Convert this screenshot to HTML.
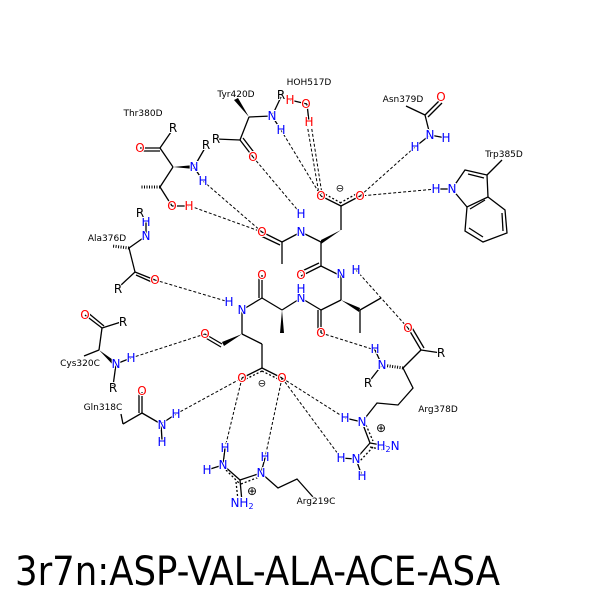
<!DOCTYPE html>
<html><head><meta charset="utf-8"><style>
body{margin:0;background:#fff}
svg text{font-family:"DejaVu Sans","Liberation Sans",sans-serif;font-size:12px;text-anchor:middle;dominant-baseline:central;paint-order:stroke;stroke:#fff;stroke-width:2px}
.b{fill:#0000ff}.r{fill:#ff0000}.k{fill:#000}
.l{font-size:9px;fill:#000}
line,polyline{stroke:#000;stroke-width:1.3;fill:none}
.d{stroke:#000;stroke-width:1;stroke-dasharray:3,2}
</style></head><body>
<svg width="600" height="600" viewBox="0 0 600 600" xmlns="http://www.w3.org/2000/svg">
<rect width="600" height="600" fill="#fff"/>
<g>
<line class="d" x1="203" y1="181" x2="262" y2="232"/>
<line class="d" x1="190" y1="206" x2="262" y2="232"/>
<line class="d" x1="253" y1="157" x2="301" y2="214"/>
<line class="d" x1="281" y1="130" x2="321" y2="196"/>
<line class="d" x1="307" y1="124" x2="319" y2="194"/>
<line class="d" x1="311" y1="124" x2="322" y2="194"/>
<line class="d" x1="415" y1="147" x2="360" y2="196"/>
<line class="d" x1="436" y1="189" x2="360" y2="196"/>
<line class="d" x1="155" y1="280" x2="229" y2="302"/>
<line class="d" x1="131" y1="358" x2="205" y2="334"/>
<line class="d" x1="176" y1="414" x2="242" y2="378"/>
<line class="d" x1="242" y1="378" x2="225" y2="448"/>
<line class="d" x1="282" y1="378" x2="265" y2="458"/>
<line class="d" x1="282" y1="378" x2="345" y2="418"/>
<line class="d" x1="282" y1="378" x2="341" y2="458"/>
<line class="d" x1="356" y1="270" x2="408" y2="328"/>
<line class="d" x1="321" y1="333" x2="375" y2="350"/>
</g>
<line x1="341" y1="206" x2="321" y2="196"/><line x1="341" y1="203" x2="323" y2="193" style="stroke-dasharray:2,2"/>
<line x1="341" y1="206" x2="360" y2="196"/><line x1="340" y1="203" x2="358" y2="193" style="stroke-dasharray:2,2"/>
<line x1="341" y1="206" x2="341" y2="230"/>
<polygon points="341,230 321,244 321,240" fill="#000"/>
<line x1="321" y1="242" x2="301" y2="232"/>
<line x1="301" y1="232" x2="282" y2="242"/>
<line x1="282" y1="242" x2="262" y2="232"/><line x1="280" y1="245" x2="261" y2="236"/>
<line x1="282" y1="242" x2="282" y2="264"/>
<line x1="321" y1="242" x2="321" y2="266"/>
<line x1="321" y1="266" x2="301" y2="276"/><line x1="319" y1="263" x2="300" y2="272"/>
<line x1="321" y1="266" x2="341" y2="276"/>
<line x1="341" y1="276" x2="341" y2="300"/>
<line x1="341" y1="300" x2="321" y2="310"/>
<polygon points="341,300 360,308 359,312" fill="#000"/>
<line x1="360" y1="310" x2="381" y2="298"/>
<line x1="360" y1="310" x2="360" y2="333"/>
<line x1="321" y1="310" x2="321" y2="333"/><line x1="318" y1="310" x2="318" y2="333"/>
<line x1="321" y1="310" x2="301" y2="298"/>
<line x1="301" y1="298" x2="282" y2="310"/>
<polygon points="282,310 280,333 284,333" fill="#000"/>
<line x1="282" y1="310" x2="262" y2="298"/>
<line x1="262" y1="298" x2="262" y2="275"/><line x1="259" y1="298" x2="259" y2="275"/>
<line x1="262" y1="298" x2="242" y2="310"/>
<line x1="242" y1="310" x2="242" y2="334"/>
<polygon points="242,334 222,342 224,346" fill="#000"/>
<line x1="222" y1="344" x2="205" y2="334"/><line x1="221" y1="347" x2="204" y2="337"/>
<line x1="242" y1="334" x2="262" y2="344"/>
<line x1="262" y1="344" x2="262" y2="368"/>
<line x1="262" y1="368" x2="242" y2="378"/><line x1="262" y1="371" x2="244" y2="380" style="stroke-dasharray:2,2"/>
<line x1="262" y1="368" x2="282" y2="378"/><line x1="262" y1="371" x2="280" y2="380" style="stroke-dasharray:2,2"/>
<line x1="140" y1="148" x2="160" y2="148"/><line x1="140" y1="151" x2="160" y2="151"/>
<line x1="160" y1="148" x2="171" y2="132"/>
<line x1="160" y1="148" x2="173" y2="167"/>
<polygon points="173,167 194,165 194,169" fill="#000"/>
<line x1="194" y1="167" x2="205" y2="148"/>
<line x1="194" y1="167" x2="203" y2="181"/>
<line x1="173" y1="167" x2="160" y2="187"/>
<line x1="160" y1="187" x2="140" y2="187" style="stroke-dasharray:1,1.5;stroke-width:3"/>
<line x1="160" y1="187" x2="172" y2="206"/>
<line x1="172" y1="206" x2="189" y2="206"/>
<polygon points="249,117 234,100 238,98" fill="#000"/>
<line x1="249" y1="117" x2="272" y2="116"/>
<line x1="272" y1="116" x2="281" y2="97"/>
<line x1="272" y1="116" x2="281" y2="130"/>
<line x1="249" y1="117" x2="240" y2="140"/>
<line x1="240" y1="140" x2="216" y2="139"/>
<line x1="240" y1="140" x2="253" y2="157"/><line x1="243" y1="138" x2="256" y2="155"/>
<line x1="290" y1="100" x2="307" y2="104"/><line x1="307" y1="104" x2="309" y2="122"/>
<line x1="406" y1="106" x2="425" y2="115"/>
<line x1="425" y1="115" x2="440" y2="100"/><line x1="428" y1="117" x2="442" y2="103"/>
<line x1="425" y1="115" x2="430" y2="135"/>
<line x1="430" y1="135" x2="446" y2="138"/><line x1="430" y1="135" x2="415" y2="147"/>
<line x1="436" y1="189" x2="452" y2="189"/>
<polyline points="452,189 465,170 487,175 488,197 467,207 452,189"/>
<line x1="468" y1="174" x2="484" y2="178"/>
<line x1="487" y1="175" x2="502" y2="160"/>
<polyline points="467,207 465,231 483,242 507,233 505,210 488,197"/>
<line x1="469" y1="228" x2="483" y2="237"/><line x1="502" y1="213" x2="503" y2="231"/><line x1="470" y1="209" x2="485" y2="200"/>
<line x1="146" y1="236" x2="129" y2="248"/>
<line x1="146" y1="236" x2="146" y2="222"/>
<line x1="129" y1="248" x2="112" y2="246" style="stroke-dasharray:1,1.5;stroke-width:3"/>
<line x1="129" y1="248" x2="135" y2="272"/>
<line x1="135" y1="272" x2="155" y2="280"/><line x1="136" y1="275" x2="154" y2="283"/>
<line x1="135" y1="272" x2="120" y2="286"/>
<line x1="85" y1="315" x2="102" y2="328"/><line x1="87" y1="312" x2="104" y2="326"/>
<line x1="102" y1="328" x2="121" y2="322"/>
<line x1="102" y1="328" x2="99" y2="350"/>
<polygon points="99,350 116,362 114,366" fill="#000"/>
<line x1="99" y1="350" x2="84" y2="356"/>
<line x1="116" y1="364" x2="131" y2="358"/>
<line x1="116" y1="364" x2="113" y2="386"/>
<line x1="121" y1="414" x2="123" y2="424"/>
<line x1="123" y1="424" x2="142" y2="413"/>
<line x1="142" y1="413" x2="142" y2="392"/><line x1="139" y1="413" x2="139" y2="392"/>
<line x1="142" y1="413" x2="161" y2="424"/>
<line x1="161" y1="424" x2="176" y2="414"/><line x1="161" y1="424" x2="162" y2="440"/>
<line x1="207" y1="470" x2="223" y2="465"/><line x1="223" y1="465" x2="225" y2="448"/>
<line x1="223" y1="465" x2="240" y2="480"/><line x1="226" y1="470" x2="240" y2="484" style="stroke-dasharray:2,2"/>
<line x1="240" y1="480" x2="242" y2="502"/><line x1="236" y1="482" x2="238" y2="500" style="stroke-dasharray:2,2"/>
<line x1="240" y1="480" x2="261" y2="473"/><line x1="241" y1="484" x2="259" y2="477" style="stroke-dasharray:2,2"/>
<line x1="261" y1="473" x2="265" y2="458"/>
<polyline points="261,473 278,488 297,479 313,497"/>
<line x1="408" y1="328" x2="421" y2="350"/><line x1="411" y1="326" x2="424" y2="348"/>
<line x1="421" y1="350" x2="441" y2="353"/>
<line x1="421" y1="350" x2="403" y2="368"/>
<line x1="403" y1="368" x2="382" y2="365" style="stroke-dasharray:1,1.5;stroke-width:3"/>
<line x1="382" y1="365" x2="375" y2="350"/>
<line x1="382" y1="365" x2="368" y2="383"/>
<polyline points="403,368 413,388 398,405 377,403 362,422"/>
<line x1="345" y1="418" x2="362" y2="422"/>
<line x1="362" y1="422" x2="370" y2="443"/><line x1="366" y1="425" x2="373" y2="441" style="stroke-dasharray:2,2"/>
<line x1="370" y1="443" x2="387" y2="446"/><line x1="370" y1="447" x2="384" y2="450" style="stroke-dasharray:2,2"/>
<line x1="370" y1="443" x2="356" y2="459"/><line x1="373" y1="447" x2="359" y2="462" style="stroke-dasharray:2,2"/>
<line x1="341" y1="458" x2="356" y2="459"/><line x1="356" y1="459" x2="362" y2="476"/>

<text x="321" y="196" class="r">O</text><text x="360" y="196" class="r">O</text>
<text x="340" y="189" class="k" style="font-size:10px">⊖</text>
<text x="301" y="232" class="b">N</text><text x="301" y="214" class="b">H</text>
<text x="262" y="232" class="r">O</text>
<text x="301" y="275" class="r">O</text>
<text x="341" y="274" class="b">N</text><text x="356" y="270" class="b">H</text>
<text x="321" y="333" class="r">O</text>
<text x="301" y="298" class="b">N</text><text x="301" y="289" class="b">H</text>
<text x="262" y="275" class="r">O</text>
<text x="242" y="310" class="b">N</text><text x="229" y="302" class="b">H</text>
<text x="205" y="334" class="r">O</text>
<text x="242" y="378" class="r">O</text><text x="282" y="378" class="r">O</text>
<text x="262" y="384" class="k" style="font-size:10px">⊖</text>
<text x="140" y="148" class="r">O</text><text x="173" y="128" class="k">R</text>
<text x="194" y="167" class="b">N</text><text x="206" y="145" class="k">R</text><text x="203" y="181" class="b">H</text>
<text x="172" y="206" class="r">O</text><text x="189" y="206" class="r">H</text>
<text x="143" y="114" class="l">Thr380D</text>
<text x="236" y="95" class="l">Tyr420D</text>
<text x="272" y="116" class="b">N</text><text x="281" y="95" class="k">R</text><text x="281" y="130" class="b">H</text>
<text x="216" y="139" class="k">R</text><text x="253" y="157" class="r">O</text>
<text x="309" y="83" class="l">HOH517D</text>
<text x="290" y="100" class="r">H</text><text x="306" y="104" class="r">O</text><text x="309" y="122" class="r">H</text>
<text x="403" y="100" class="l">Asn379D</text>
<text x="441" y="97" class="r">O</text>
<text x="430" y="135" class="b">N</text><text x="446" y="138" class="b">H</text><text x="415" y="147" class="b">H</text>
<text x="504" y="155" class="l">Trp385D</text>
<text x="452" y="189" class="b">N</text><text x="436" y="189" class="b">H</text>
<text x="107" y="239" class="l">Ala376D</text>
<text x="146" y="236" class="b">N</text><text x="146" y="222" class="b">H</text><text x="140" y="213" class="k">R</text>
<text x="155" y="280" class="r">O</text><text x="118" y="289" class="k">R</text>
<text x="85" y="315" class="r">O</text><text x="123" y="322" class="k">R</text>
<text x="80" y="364" class="l">Cys320C</text>
<text x="116" y="364" class="b">N</text><text x="131" y="358" class="b">H</text><text x="113" y="388" class="k">R</text>
<text x="103" y="408" class="l">Gln318C</text>
<text x="142" y="391" class="r">O</text>
<text x="162" y="425" class="b">N</text><text x="176" y="414" class="b">H</text><text x="162" y="442" class="b">H</text>
<text x="207" y="470" class="b">H</text><text x="223" y="465" class="b">N</text><text x="225" y="448" class="b">H</text>
<text x="242" y="503" class="b">NH<tspan font-size="8" dy="3">2</tspan></text>
<text x="261" y="473" class="b">N</text><text x="265" y="457" class="b">H</text>
<text x="252" y="491" class="k">⊕</text>
<text x="316" y="502" class="l">Arg219C</text>
<text x="408" y="328" class="r">O</text><text x="441" y="353" class="k">R</text>
<text x="382" y="365" class="b">N</text><text x="375" y="349" class="b">H</text><text x="368" y="383" class="k">R</text>
<text x="438" y="410" class="l">Arg378D</text>
<text x="362" y="422" class="b">N</text><text x="345" y="418" class="b">H</text>
<text x="381" y="428" class="k">⊕</text>
<text x="388" y="446" class="b">H<tspan font-size="8" dy="3">2</tspan><tspan dy="-3">N</tspan></text>
<text x="356" y="459" class="b">N</text><text x="341" y="458" class="b">H</text><text x="362" y="476" class="b">H</text>
<text x="15" y="585" textLength="485" lengthAdjust="spacingAndGlyphs" style="font-size:40px;text-anchor:start;dominant-baseline:alphabetic;stroke:none;fill:#000">3r7n:ASP-VAL-ALA-ACE-ASA</text>
</svg>
</body></html>
